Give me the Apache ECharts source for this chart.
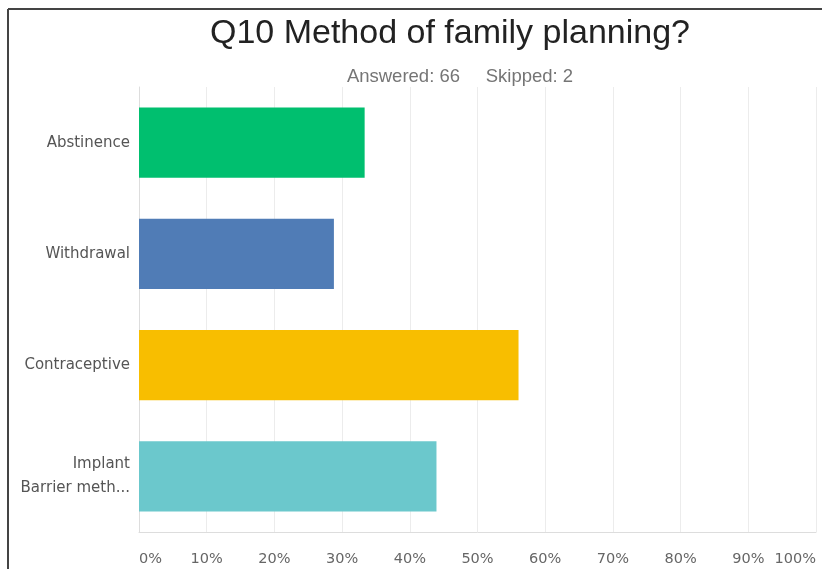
<!DOCTYPE html>
<html>
<head>
<meta charset="utf-8">
<script src="https://cdn.jsdelivr.net/npm/echarts@6/dist/echarts.min.js"></script>
<style>
  html, body { margin: 0; padding: 0; background: #fff; }
  #chart { width: 822px; height: 569px; }
</style>
</head>
<body>
<div id="chart"></div>
<script>
// Survey question results: share of respondents per method
const titleText = 'Q10 Method of family planning?';
const answered = 66;
const skipped = 2;
const categories = ['Abstinence', 'Withdrawal', 'Contraceptive', 'Implant\nBarrier meth...'];
const percentValues = [33.33, 28.79, 56.06, 43.94];
const barColors = ['#00BF6F', '#507CB6', '#F8BE00', '#6BC8CC'];
const tickLabels = ['0%', '10%', '20%', '30%', '40%', '50%', '60%', '70%', '80%', '90%', '100%'];

const chart = echarts.init(document.getElementById('chart'));

chart.setOption({
  animation: false,
  backgroundColor: '#fff',
  graphic: [
    // frame: left and top edges
    { type: 'line', shape: { x1: 8, y1: 9, x2: 8, y2: 569 }, style: { stroke: '#444', lineWidth: 2 } },
    { type: 'line', shape: { x1: 8, y1: 9, x2: 822, y2: 9 }, style: { stroke: '#444', lineWidth: 2 } }
  ],
  title: [
    {
      text: titleText,
      left: 445, top: 12, textAlign: 'center',
      textStyle: { fontFamily: 'Liberation Sans', fontWeight: 'normal', fontSize: 34, color: '#222' }
    },
    {
      text: 'Answered: ' + answered + '     Skipped: ' + skipped,
      left: 455, top: 62, textAlign: 'center',
      textStyle: { fontFamily: 'Liberation Sans', fontWeight: 'normal', fontSize: 18.5, color: '#757575' }
    }
  ],
  grid: { left: 139, right: 6, top: 87, bottom: 37, containLabel: false },
  xAxis: {
    type: 'value',
    min: 0, max: 100, interval: 10,
    axisLine: { show: true, lineStyle: { color: '#ddd' } },
    axisTick: { show: false },
    splitLine: { show: true, lineStyle: { color: '#ececec' } },
    axisLabel: {
      formatter: v => tickLabels[Math.round(v / 10)],
      fontFamily: 'DejaVu Sans', fontSize: 14.5, color: '#666',
      margin: 20,
      alignMinLabel: 'left', alignMaxLabel: 'right'
    }
  },
  yAxis: {
    type: 'category',
    data: categories,
    inverse: true,
    axisLine: { show: true, lineStyle: { color: '#ddd' } },
    axisTick: { show: false },
    axisLabel: {
      fontFamily: 'DejaVu Sans', fontSize: 15, color: '#555',
      margin: 9, lineHeight: 24, align: 'right'
    }
  },
  series: [{
    type: 'bar',
    data: percentValues.map((v, i) => ({ value: v, itemStyle: { color: barColors[i] } })),
    barCategoryGap: '37%'
  }]
});
</script>
</body>
</html>
